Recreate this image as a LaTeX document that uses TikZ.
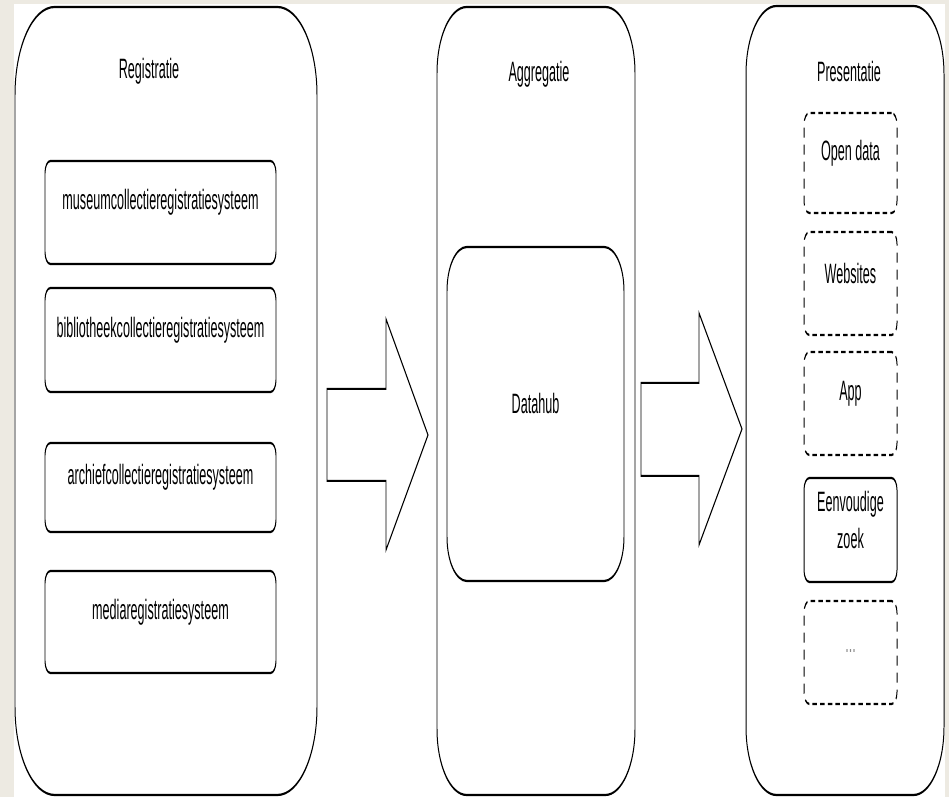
\documentclass[tikz,border=0pt]{standalone}
\usepackage{fontspec}
\setmainfont{Liberation Sans}
\usetikzlibrary{fit}
\definecolor{pagebg}{HTML}{EDEAE2}
\tikzset{
  lbl/.style={text=black, font=\fontsize{28}{37}\selectfont, align=center},
  lane/.style={draw, line width=2.2pt, inner sep=0pt},
  sysbox/.style={draw, line width=2.2pt, inner sep=0pt, rounded corners=12pt},
  optbox/.style={sysbox, dash pattern=on 10pt off 7pt},
  blockarrow/.style={draw, line width=2pt, line join=miter},
}

\begin{document}
\begin{tikzpicture}[x=1pt,y=1pt]
\path[use as bounding box, fill=pagebg] (0,0) rectangle (949,797);
\fill[white] (14,0) rectangle (945,793);
\begin{scope}[x=2.2222pt, transform canvas={xscale=0.45}, every node/.append style={lbl}]
  % kolommen
  \node[lane, rounded corners=88pt, fit={(15,2) (317,790)}] (reg) {};
  \node[lane, rounded corners=66pt, fit={(437,2) (635,790)}] (agg) {};
  \node[lane, rounded corners=68pt, fit={(746,2) (944,791)}] (pres) {};
  \node at (149,726) (regtitle) {Registratie};
  \node at (539,723) (aggtitle) {Aggregatie};
  \node at (849,725) (prestitle) {Presentatie};
  % registratie
  \node[sysbox, fit={(45,533) (276,636)}] (museum) {museumcollectieregistratiesysteem};
  \node[sysbox, fit={(45,405) (276,509)}] (bieb) {bibliotheekcollectieregistratiesysteem};
  \node[sysbox, fit={(45,265) (276,354)}] (archief) {archiefcollectieregistratiesysteem};
  \node[sysbox, fit={(45,124) (276,226)}] (media) {mediaregistratiesysteem};
  % aggregatie
  \node[sysbox, rounded corners=44pt, fit={(447,216) (624,550)}] (hub) {Datahub};
  % presentatie
  \node[optbox, fit={(804,584) (897,684)}] (opendata) {Open data};
  \node[optbox, fit={(804,462) (897,565)}] (websites) {Websites};
  \node[optbox, fit={(804,342) (897,445)}] (app) {App};
  \node[sysbox, fit={(804,215) (897,319)}] (zoek) {Eenvoudige\\zoek};
  \node[optbox, fit={(804,93) (897,196)}, text=black!45] (meer) {...};
  % pijlen
  \draw[blockarrow] (327,316) -- (386,316) -- (386,247) -- (428,362)
    -- (386,478) -- (386,408) -- (327,408) -- cycle;
  \draw[blockarrow] (641,321) -- (699,321) -- (699,252) -- (742,368)
    -- (699,484) -- (699,414) -- (641,414) -- cycle;
\end{scope}
\end{tikzpicture}
\end{document}
